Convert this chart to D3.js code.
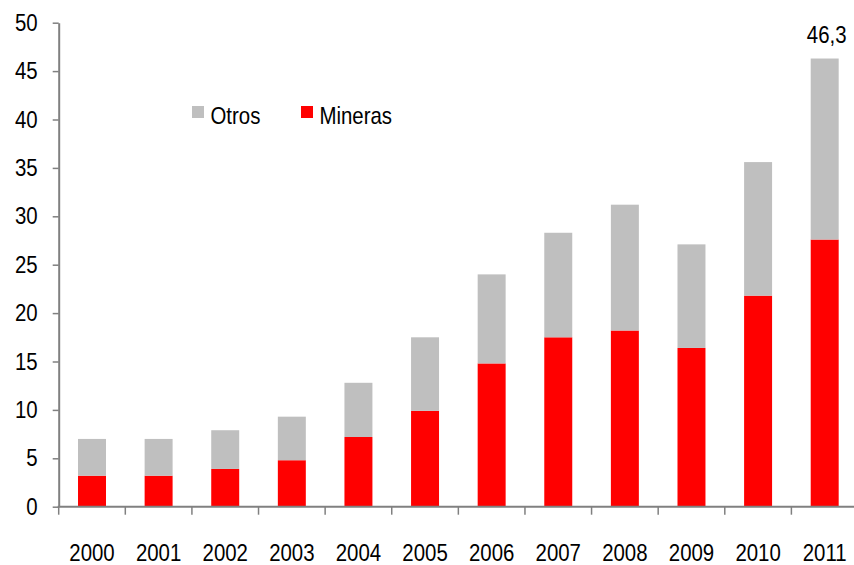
<!DOCTYPE html>
<html>
<head>
<meta charset="utf-8">
<script src="https://cdn.jsdelivr.net/npm/d3@7/dist/d3.min.js"></script>
<style>
  body { margin: 0; background: #fff; }
  svg text { font-family: "Liberation Sans Narrow", "Liberation Sans", Arial, sans-serif; fill: #000; }
</style>
</head>
<body>
<svg id="chart" width="854" height="565"></svg>
<script>
// data
var years = ['2000', '2001', '2002', '2003', '2004', '2005', '2006', '2007', '2008', '2009', '2010', '2011'];
var mineras = [3.2, 3.2, 3.9, 4.8, 7.2, 9.9, 14.8, 17.5, 18.2, 16.4, 21.8, 27.6];
var otros = [3.8, 3.8, 4.0, 4.5, 5.6, 7.6, 9.2, 10.8, 13.0, 10.7, 13.8, 18.7];
var yTicks = [0, 5, 10, 15, 20, 25, 30, 35, 40, 45, 50];
var topLabel = '46,3';

var colors = { otros: '#bfbfbf', mineras: '#ff0000' };

var svg = d3.select('#chart');
var plotLeft = 58.7, plotRight = 858, plotTop = 22.7, plotBottom = 506.7;
var squeeze = 0.85; // no narrow font here, so squeeze the text a bit

var x = d3.scaleBand().domain(years).range([plotLeft, plotRight]).paddingInner(0.58).paddingOuter(0.29);
var xCat = d3.scaleBand().domain(years).range([plotLeft, plotRight]).padding(0);
var y = d3.scaleLinear().domain([0, 50]).range([plotBottom, plotTop]);

var rows = years.map(function(yr, i) {
  return { year: yr, mineras: mineras[i], otros: otros[i] };
});
var stack = d3.stack().keys(['mineras', 'otros'])(rows);

svg.append('g').selectAll('g')
  .data(stack)
  .join('g')
  .attr('fill', function(d) { return colors[d.key]; })
  .selectAll('rect')
  .data(function(d) { return d; })
  .join('rect')
  .attr('x', function(d) { return x(d.data.year); })
  .attr('width', x.bandwidth())
  .attr('y', function(d) { return y(d[1]); })
  .attr('height', function(d) { return y(d[0]) - y(d[1]); });

// y axis
var yAxis = svg.append('g')
  .attr('transform', 'translate(' + plotLeft + ',0)')
  .call(d3.axisLeft(y).tickValues(yTicks).tickSize(6).tickPadding(15).tickSizeOuter(0));
yAxis.select('.domain').attr('stroke', '#808080').attr('stroke-width', 2);
yAxis.selectAll('.tick line').attr('stroke', '#808080').attr('stroke-width', 1.5);
yAxis.selectAll('.tick text')
  .attr('font-size', 24)
  .attr('x', -21 / squeeze)
  .attr('transform', 'scale(' + squeeze + ',1)');

// x axis: labels at category centres, ticks at category boundaries
var xAxis = svg.append('g')
  .attr('transform', 'translate(' + x.bandwidth() / 2 * 0 + ',' + plotBottom + ')')
  .call(d3.axisBottom(x).tickSize(0).tickSizeOuter(0));
xAxis.select('.domain').remove();
xAxis.selectAll('.tick text')
  .attr('font-size', 24)
  .attr('y', 54).attr('dy', 0)
  .attr('transform', 'scale(' + squeeze + ',1)');

var bounds = years.map(function(d) { return xCat(d); }).concat([plotRight]);
svg.append('g').selectAll('line')
  .data(bounds)
  .join('line')
  .attr('x1', function(d) { return d; })
  .attr('x2', function(d) { return d; })
  .attr('y1', plotBottom)
  .attr('y2', plotBottom + 8)
  .attr('stroke', '#808080')
  .attr('stroke-width', 1.5);
svg.append('line')
  .attr('x1', plotLeft - 1).attr('x2', plotRight)
  .attr('y1', plotBottom).attr('y2', plotBottom)
  .attr('stroke', '#808080').attr('stroke-width', 2);

// total label on the last bar
var lastYear = years[years.length - 1];
var labelX = x(lastYear) + x.bandwidth() / 2 + 2;
svg.append('text')
  .attr('x', labelX / squeeze)
  .attr('y', y(mineras[11] + otros[11]) - 15.5)
  .attr('text-anchor', 'middle')
  .attr('font-size', 24)
  .attr('transform', 'scale(' + squeeze + ',1)')
  .text(topLabel);

// legend
var legend = [
  { name: 'Otros', key: 'otros', x: 192 },
  { name: 'Mineras', key: 'mineras', x: 301 }
];
var lg = svg.append('g').selectAll('g').data(legend).join('g')
  .attr('transform', function(d) { return 'translate(' + d.x + ',106)'; });
lg.append('rect').attr('width', 12).attr('height', 12)
  .attr('fill', function(d) { return colors[d.key]; });
lg.append('text').attr('x', 18.5 / squeeze).attr('y', 17.5).attr('font-size', 24)
  .attr('transform', 'scale(' + squeeze + ',1)')
  .text(function(d) { return d.name; });
</script>
</body>
</html>
